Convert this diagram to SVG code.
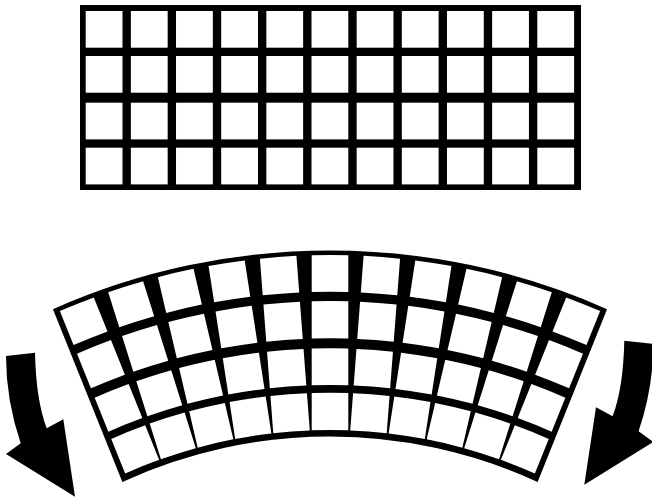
<svg xmlns="http://www.w3.org/2000/svg" xmlns:xlink="http://www.w3.org/1999/xlink" width="652" height="499" viewBox="0 0 652 499">
  <style>
    .frame { fill: #000; }
    .cell { fill: #fff; }
    .arrow { fill: #000; }
  </style>
  <defs>
    <g id="cellcol">
      <rect class="cell" x="0" y="11" width="36.8" height="36.7"/>
      <rect class="cell" x="0" y="56" width="36.8" height="36.7"/>
      <rect class="cell" x="0" y="102.7" width="36.8" height="36.7"/>
      <rect class="cell" x="0" y="147.7" width="36.8" height="36.7"/>
    </g>
    <g id="arccol">
      <path class="cell" d="M311.7,255.25 A679,679 0 0 1 348.3,255.25 L348.3,291.96 A642.3,642.3 0 0 0 311.7,291.96 Z"/>
      <path class="cell" d="M311.7,301.26 A633,633 0 0 1 348.3,301.26 L348.3,338.58 A595.7,595.7 0 0 0 311.7,338.58 Z"/>
      <path class="cell" d="M311.7,348.59 A585.7,585.7 0 0 1 348.3,348.59 L348.3,385.3 A549,549 0 0 0 311.7,385.3 Z"/>
      <path class="cell" d="M311.7,393.01 A541.3,541.3 0 0 1 348.3,393.01 L348.3,430.33 A504,504 0 0 0 311.7,430.33 Z"/>
    </g>
    <path id="arrowshape" class="arrow" d="M6,356 L35,352.7 Q36,400 46.7,428.3 L63.3,419.3 L75,496.7 L6,454 L20.7,443.3 Q6,400 6,356 Z"/>
  </defs>

  <g id="flat-grid">
    <rect class="frame" x="80" y="5" width="501" height="185"/>
    <use xlink:href="#cellcol" href="#cellcol" x="85.7"/>
    <use xlink:href="#cellcol" href="#cellcol" x="130.86"/>
    <use xlink:href="#cellcol" href="#cellcol" x="176.02"/>
    <use xlink:href="#cellcol" href="#cellcol" x="221.18"/>
    <use xlink:href="#cellcol" href="#cellcol" x="266.34"/>
    <use xlink:href="#cellcol" href="#cellcol" x="311.5"/>
    <use xlink:href="#cellcol" href="#cellcol" x="356.66"/>
    <use xlink:href="#cellcol" href="#cellcol" x="401.82"/>
    <use xlink:href="#cellcol" href="#cellcol" x="446.98"/>
    <use xlink:href="#cellcol" href="#cellcol" x="492.14"/>
    <use xlink:href="#cellcol" href="#cellcol" x="537.3"/>
  </g>

  <g id="curved-grid">
    <path class="frame" d="M52.95,309.16 A683.5,683.5 0 0 1 607.05,309.16 L537.62,481.89 A497.5,497.5 0 0 0 122.38,481.89 Z"/>
    <use xlink:href="#arccol" href="#arccol" transform="rotate(-21.9 330 934)"/>
    <use xlink:href="#arccol" href="#arccol" transform="rotate(-17.52 330 934)"/>
    <use xlink:href="#arccol" href="#arccol" transform="rotate(-13.14 330 934)"/>
    <use xlink:href="#arccol" href="#arccol" transform="rotate(-8.76 330 934)"/>
    <use xlink:href="#arccol" href="#arccol" transform="rotate(-4.38 330 934)"/>
    <use xlink:href="#arccol" href="#arccol"/>
    <use xlink:href="#arccol" href="#arccol" transform="rotate(4.38 330 934)"/>
    <use xlink:href="#arccol" href="#arccol" transform="rotate(8.76 330 934)"/>
    <use xlink:href="#arccol" href="#arccol" transform="rotate(13.14 330 934)"/>
    <use xlink:href="#arccol" href="#arccol" transform="rotate(17.52 330 934)"/>
    <use xlink:href="#arccol" href="#arccol" transform="rotate(21.9 330 934)"/>
  </g>

  <g id="arrows">
    <use id="arrow-left" xlink:href="#arrowshape" href="#arrowshape"/>
    <use id="arrow-right" xlink:href="#arrowshape" href="#arrowshape" transform="translate(659.3 -12) scale(-1 1)"/>
  </g>
</svg>
